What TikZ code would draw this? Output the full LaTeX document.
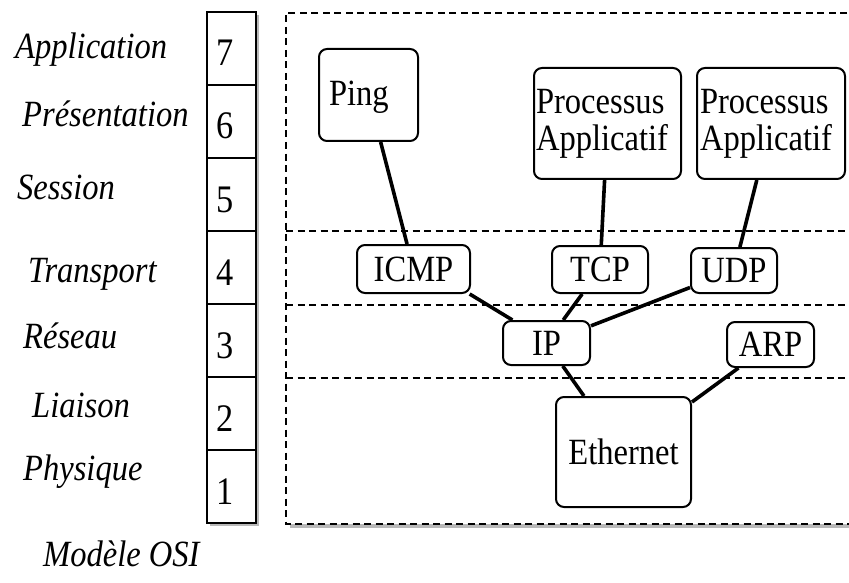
\documentclass[tikz,border=0pt]{standalone}
\usepackage{fontspec}
\setmainfont{Liberation Serif}[FakeStretch=0.88]
\usetikzlibrary{shadows}

\begin{document}
\begin{tikzpicture}
[x=1pt, y=-1pt, every node/.style={inner sep=0pt, font=\fontsize{37}{36}\selectfont},
 layername/.style={anchor=base west, font=\fontsize{37}{36}\selectfont\itshape},
 layercell/.style={draw, fill=white, line width=2pt, anchor=north west, inner xsep=9pt, text width=31pt, align=left, text height=54pt, text depth=19pt, font=\fontsize{39}{36}\selectfont},
 topbox/.style={draw, fill=white, rounded corners=8pt, line width=2pt, anchor=north west, align=left},
 protobox/.style={draw, fill=white, rounded corners=8pt, line width=2pt},
 sep/.style={line width=1.6pt, dash pattern=on 7pt off 4.5pt},
 link/.style={line width=3.6pt}]
\useasboundingbox (0,0) rectangle (849,583);
% OSI column and frame
\path[fill=white, drop shadow={shadow xshift=4pt, shadow yshift=-4pt, opacity=.55}] (206,11) rectangle (255,522);
\path[fill=white, drop shadow={shadow xshift=4pt, shadow yshift=-4pt, opacity=.55}] (286,13) rectangle (870,524);
\draw[sep] (870,13) -- (286,13) -- (286,524) -- (870,524);
\foreach \y in {231,305,378}
  \draw[sep] (286,\y) -- (870,\y);
\foreach \n [count=\i from 0] in {7,6,5,4,3,2,1}
  \node[layercell] (c\n) at (206,{11+73*\i}) {\n};
\node[layername] (l7) at (15,59) {Application};
\node[layername] (l6) at (22,127) {Présentation};
\node[layername] (l5) at (17,199) {Session};
\node[layername] (l4) at (28,282) {Transport};
\node[layername] (l3) at (23,348) {Réseau};
\node[layername] (l2) at (32,417) {Liaison};
\node[layername] (l1) at (23,480) {Physique};
\node[layername] (osi) at (43,566) {Modèle OSI};
% protocol boxes
\node[topbox, inner xsep=10pt, text width=79pt, text height=57pt, text depth=35pt] (ping) at (318,48) {Ping};
\node[topbox, inner xsep=2pt, text width=143pt, text height=46pt, text depth=65pt] (proc1) at (533,67) {Processus\\Applicatif};
\node[topbox, inner xsep=3pt, text width=142pt, text height=46pt, text depth=65pt] (proc2) at (696,67) {Processus\\Applicatif};
\node[protobox, minimum width=113pt, minimum height=48pt] (icmp) at (413.5,269) {ICMP};
\node[protobox, minimum width=96pt, minimum height=47pt] (tcp) at (600,269.5) {TCP};
\node[protobox, minimum width=86pt, minimum height=45pt] (udp) at (734,270.5) {UDP};
\node[protobox, minimum width=87pt, minimum height=44pt] (ip) at (546.5,343) {IP};
\node[protobox, minimum width=87pt, minimum height=45pt] (arp) at (770.5,344.5) {ARP};
\node[protobox, minimum width=135pt, minimum height=110pt] (eth) at (623.5,452) {Ethernet};
% links
\draw[link] (ping) -- (icmp);
\draw[link] (proc1) -- (tcp);
\draw[link] (proc2) -- (udp);
\draw[link] (icmp.-24) -- (ip.146);
\draw[link] (tcp) -- (ip);
\draw[link] (udp) -- (ip);
\draw[link] (ip) -- (eth);
\draw[link] (arp) -- (eth);
\end{tikzpicture}
\end{document}
